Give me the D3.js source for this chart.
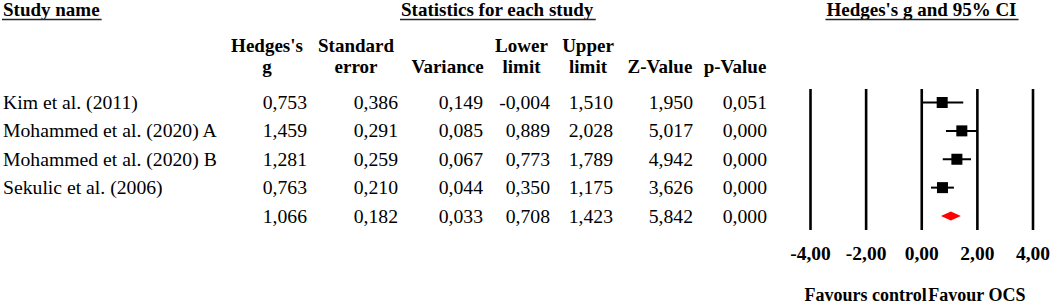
<!DOCTYPE html>
<html>
<head>
<meta charset="utf-8">
<script src="https://cdn.jsdelivr.net/npm/d3@7"></script>
<style>
  html, body { margin: 0; padding: 0; background: #fff; }
  svg { display: block; }
  text { font-family: "Liberation Serif", "Times New Roman", serif; fill: #000; }
</style>
</head>
<body>
<svg id="chart" width="1052" height="305"></svg>
<script>
// ---------------- data ----------------
const studies   = ["Kim et al. (2011)", "Mohammed et al. (2020) A", "Mohammed et al. (2020) B", "Sekulic et al. (2006)", ""];
const hedgesG   = [0.753, 1.459, 1.281, 0.763, 1.066];
const stdErr    = [0.386, 0.291, 0.259, 0.210, 0.182];
const variance  = [0.149, 0.085, 0.067, 0.044, 0.033];
const lowerLim  = [-0.004, 0.889, 0.773, 0.350, 0.708];
const upperLim  = [1.510, 2.028, 1.789, 1.175, 1.423];
const zValue    = [1.950, 5.017, 4.942, 3.626, 5.842];
const pValue    = [0.051, 0.000, 0.000, 0.000, 0.000];
const isSummary = [false, false, false, false, true];

const colHeaders = [["Hedges's", "g"], ["Standard", "error"], ["", "Variance"], ["Lower", "limit"], ["Upper", "limit"], ["", "Z-Value"], ["", "p-Value"]];
const sectionHeaders = ["Study name", "Statistics for each study", "Hedges's g and 95% CI"];
const axisTicks = [-4, -2, 0, 2, 4];
const favourLabels = ["Favours control", "Favour OCS"];
const favourAt = [-2, 2];

// ---------------- setup ----------------
const locale = d3.formatLocale({decimal: ",", thousands: ".", grouping: [3], currency: ["", ""], minus: "-"});
const f3 = locale.format(".3f");
const f2 = locale.format(".2f");

const svg = d3.select("#chart");
svg.append("rect").attr("width", 1052).attr("height", 305).attr("fill", "#fff");

const regFont = "19.7px";
const boldFont = "19px";

const x = d3.scaleLinear().domain([-4, 4]).range([810, 1032.5]);
const y = d3.scalePoint().domain(d3.range(studies.length)).range([102.5, 216]);

// ---------------- section headers ----------------
const secX = [3, 401, 921.5];
const secAnchor = ["start", "start", "middle"];
sectionHeaders.forEach((h, i) => {
  const t = svg.append("text")
    .attr("x", secX[i]).attr("y", 15.5)
    .attr("text-anchor", secAnchor[i])
    .attr("font-weight", "bold").attr("font-size", boldFont)
    .text(h);
  const bb = t.node().getBBox();
  svg.append("line")
    .attr("x1", bb.x - 1).attr("x2", bb.x + bb.width + 2)
    .attr("y1", 19.5).attr("y2", 19.5)
    .attr("stroke", "#222").attr("stroke-width", 1.5);
});

// ---------------- column headers ----------------
const colCenter = [267, 356, 447.5, 521.5, 588, 660, 735];
const colRight  = [307, 398, 483, 550, 613, 693, 767];
colHeaders.forEach((lines, i) => {
  lines.forEach((ln, j) => {
    if (!ln) return;
    svg.append("text")
      .attr("x", colCenter[i]).attr("y", 52 + j * 21)
      .attr("text-anchor", "middle")
      .attr("font-weight", "bold").attr("font-size", boldFont)
      .text(ln);
  });
});

// ---------------- table rows ----------------
const cols = [hedgesG, stdErr, variance, lowerLim, upperLim, zValue, pValue];
studies.forEach((s, i) => {
  const by = y(i) + 6.5;
  svg.append("text").attr("x", 3).attr("y", by)
    .attr("font-size", regFont).text(s);
  cols.forEach((arr, c) => {
    svg.append("text")
      .attr("x", colRight[c]).attr("y", by)
      .attr("text-anchor", "end").attr("font-size", regFont)
      .text(f3(arr[i]));
  });
});

// ---------------- forest plot axis ----------------
const plotTop = 89, plotBottom = 230;
const axis = d3.axisBottom(x).tickValues(axisTicks).tickFormat(f2)
  .tickSize(plotBottom - plotTop).tickPadding(16);
const ax = svg.append("g").attr("transform", `translate(0,${plotTop})`).call(axis);
ax.select(".domain").remove();
ax.selectAll(".tick line").attr("stroke", "#000").attr("stroke-width", 2.6);
ax.selectAll(".tick text")
  .attr("fill", "#000")
  .style("font-family", '"Liberation Serif", "Times New Roman", serif')
  .style("font-size", "19.5px").style("font-weight", "bold");

// favour labels
favourLabels.forEach((lab, i) => {
  svg.append("text")
    .attr("x", x(favourAt[i])).attr("y", 301)
    .attr("text-anchor", "middle")
    .attr("font-weight", "bold").attr("font-size", "18px")
    .text(lab);
});

// ---------------- markers ----------------
const boxSize = 11;
studies.forEach((s, i) => {
  const cy = y(i);
  if (!isSummary[i]) {
    svg.append("line")
      .attr("x1", x(lowerLim[i])).attr("x2", x(upperLim[i]))
      .attr("y1", cy).attr("y2", cy)
      .attr("stroke", "#000").attr("stroke-width", 2);
    svg.append("rect")
      .attr("x", x(hedgesG[i]) - boxSize / 2).attr("y", cy - boxSize / 2)
      .attr("width", boxSize).attr("height", boxSize)
      .attr("fill", "#000");
  } else {
    const h = 4.5;
    svg.append("path")
      .attr("d", `M${x(lowerLim[i])},${cy} L${x(hedgesG[i])},${cy - h} L${x(upperLim[i])},${cy} L${x(hedgesG[i])},${cy + h} Z`)
      .attr("fill", "#ff0000");
  }
});
</script>
</body>
</html>
